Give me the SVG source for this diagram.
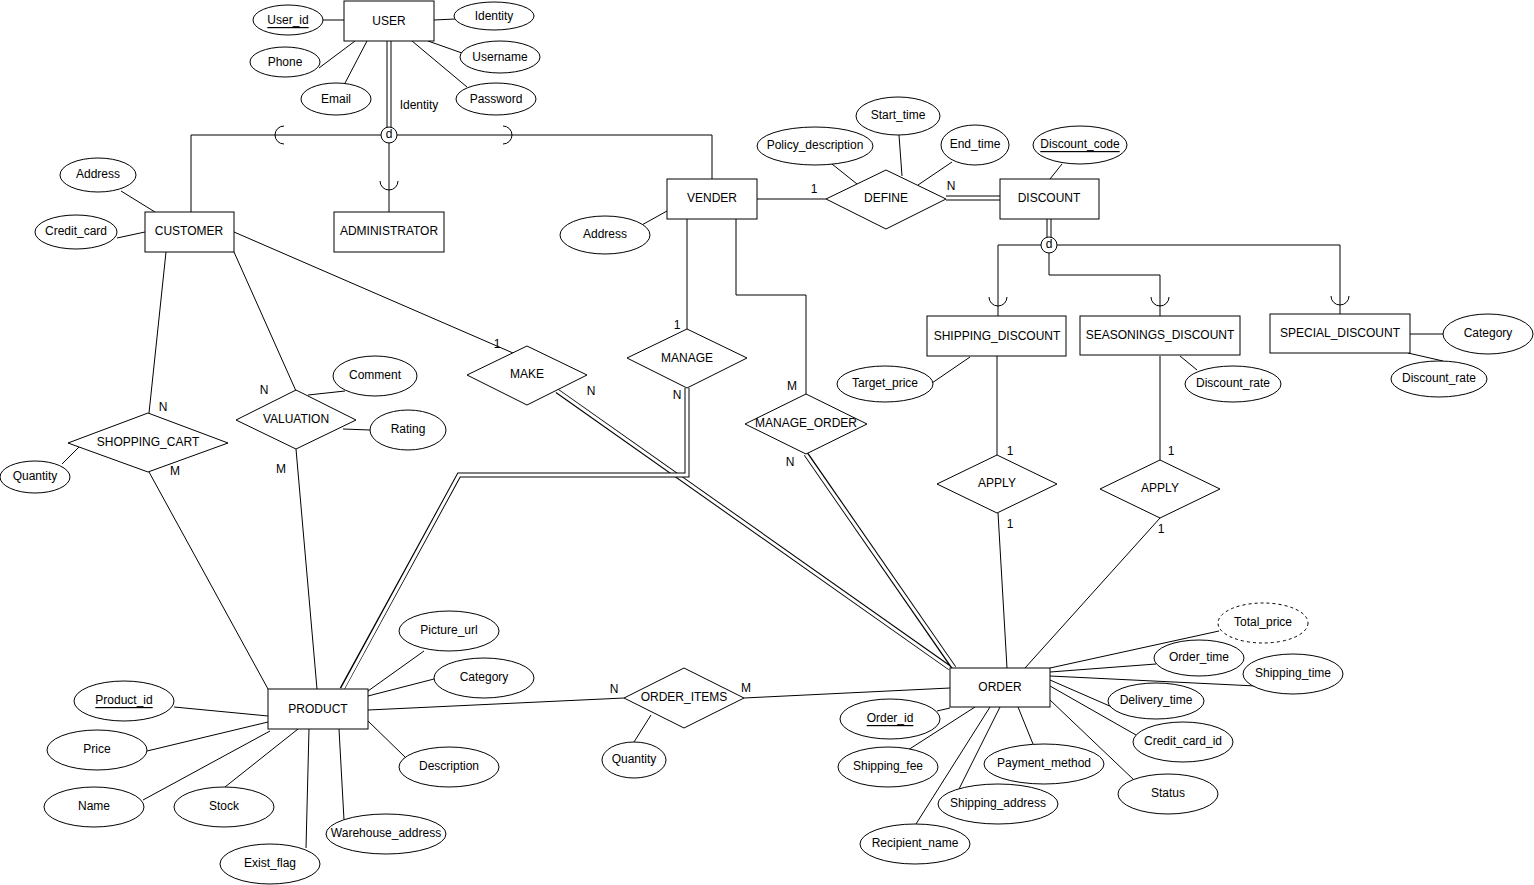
<svg xmlns="http://www.w3.org/2000/svg" width="1534" height="885" viewBox="0 0 1534 885">
<style>
.e{fill:#fff;stroke:#000;stroke-width:1}
.d{fill:#fff;stroke:#000;stroke-width:1;stroke-dasharray:3 3}
.r{fill:#fff;stroke:#000;stroke-width:1}
.l{fill:none;stroke:#000;stroke-width:1}
.bo{fill:none;stroke:#000;stroke-width:5}
.bi{fill:none;stroke:#fff;stroke-width:3}
text{font-family:"Liberation Sans",Arial,sans-serif;font-size:12px;fill:#000}
.t{text-anchor:middle;dominant-baseline:central}
.u{text-decoration:underline}
</style>
<rect width="1534" height="885" fill="#fff"/>
<g id="connectors">
<line class="l" x1="323" y1="20" x2="344" y2="20"/>
<line class="l" x1="434" y1="20" x2="455" y2="19"/>
<line class="l" x1="319" y1="68" x2="355" y2="41"/>
<line class="l" x1="344" y1="85" x2="367" y2="41"/>
<line class="l" x1="462" y1="53" x2="428" y2="41"/>
<line class="l" x1="467" y1="87" x2="412" y2="41"/>
<line class="bo" x1="389" y1="41" x2="389" y2="127"/>
<line class="bi" x1="389" y1="40" x2="389" y2="128"/>
<polyline class="l" points="191,212 191,135 381,135"/>
<polyline class="l" points="397,135 712,135 712,179"/>
<line class="l" x1="389" y1="143" x2="389" y2="212"/>
<path class="l" d="M284,126 A9,9 0 0 0 284,144"/>
<path class="l" d="M503,126 A9,9 0 0 1 503,144"/>
<path class="l" d="M380,181 A9,9 0 0 0 398,181"/>
<line class="l" x1="121" y1="191" x2="155" y2="212"/>
<line class="l" x1="117" y1="238" x2="145" y2="232"/>
<line class="l" x1="640" y1="226" x2="667" y2="211"/>
<line class="l" x1="757" y1="199" x2="826" y2="199"/>
<line class="bo" x1="946" y1="198" x2="1000" y2="198"/>
<line class="bi" x1="945" y1="198" x2="1001" y2="198"/>
<line class="l" x1="832" y1="164" x2="857" y2="184"/>
<line class="l" x1="899" y1="135" x2="902" y2="176"/>
<line class="l" x1="952" y1="162" x2="918" y2="185"/>
<line class="l" x1="1062" y1="164" x2="1050" y2="179"/>
<line class="bo" x1="1049" y1="219" x2="1049" y2="237"/>
<line class="bi" x1="1049" y1="218" x2="1049" y2="238"/>
<polyline class="l" points="998,316 998,245 1041,245"/>
<polyline class="l" points="1057,245 1340,245 1340,314"/>
<polyline class="l" points="1049,253 1049,275 1160,275 1160,316"/>
<path class="l" d="M989,297 A9,9 0 0 0 1007,297"/>
<path class="l" d="M1151,297 A9,9 0 0 0 1169,297"/>
<path class="l" d="M1331,296 A9,9 0 0 0 1349,296"/>
<line class="l" x1="1410" y1="334" x2="1443" y2="334"/>
<line class="l" x1="1408" y1="353" x2="1443" y2="361"/>
<line class="l" x1="1180" y1="356" x2="1197" y2="370"/>
<line class="l" x1="932" y1="383" x2="970" y2="357"/>
<line class="l" x1="997" y1="356" x2="997" y2="455"/>
<line class="l" x1="998" y1="513" x2="1007" y2="668"/>
<line class="l" x1="1160" y1="356" x2="1160" y2="460"/>
<line class="l" x1="1160" y1="518" x2="1025" y2="668"/>
<line class="l" x1="234" y1="232" x2="513" y2="353"/>
<line class="bo" x1="557" y1="391" x2="950" y2="668"/>
<line class="bi" x1="556" y1="390" x2="951" y2="669"/>
<line class="l" x1="687" y1="219" x2="687" y2="329"/>
<polyline class="bo" points="687,388 687,475 459,475 342,689"/>
<polyline class="bi" points="687,387 687,475 459,475 342,690"/>
<polyline class="l" points="736,219 736,295 806,295 806,394"/>
<line class="bo" x1="806" y1="454" x2="954" y2="668"/>
<line class="bi" x1="805" y1="453" x2="955" y2="669"/>
<line class="l" x1="166" y1="252" x2="149" y2="413"/>
<line class="l" x1="149" y1="472" x2="268" y2="689"/>
<line class="l" x1="62" y1="464" x2="79" y2="447"/>
<line class="l" x1="234" y1="252" x2="296" y2="391"/>
<line class="l" x1="296" y1="449" x2="317" y2="689"/>
<line class="l" x1="308" y1="395" x2="345" y2="391"/>
<line class="l" x1="343" y1="429" x2="370" y2="430"/>
<line class="l" x1="174" y1="707" x2="268" y2="716"/>
<line class="l" x1="147" y1="751" x2="268" y2="722"/>
<line class="l" x1="143" y1="800" x2="270" y2="731"/>
<line class="l" x1="225" y1="787" x2="298" y2="729"/>
<line class="l" x1="306" y1="848" x2="309" y2="729"/>
<line class="l" x1="344" y1="820" x2="339" y2="729"/>
<line class="l" x1="405" y1="757" x2="368" y2="721"/>
<line class="l" x1="434" y1="679" x2="368" y2="696"/>
<line class="l" x1="424" y1="651" x2="368" y2="691"/>
<line class="l" x1="368" y1="710" x2="624" y2="698"/>
<line class="l" x1="744" y1="698" x2="950" y2="688"/>
<line class="l" x1="634" y1="742" x2="651" y2="715"/>
<line class="l" x1="1050" y1="668" x2="1219" y2="631"/>
<line class="l" x1="1050" y1="672" x2="1156" y2="664"/>
<line class="l" x1="1050" y1="676" x2="1256" y2="686"/>
<line class="l" x1="1050" y1="680" x2="1112" y2="707"/>
<line class="l" x1="1050" y1="686" x2="1136" y2="735"/>
<line class="l" x1="1050" y1="700" x2="1134" y2="780"/>
<line class="l" x1="1018" y1="707" x2="1033" y2="744"/>
<line class="l" x1="1000" y1="707" x2="959" y2="789"/>
<line class="l" x1="990" y1="707" x2="916" y2="824"/>
<line class="l" x1="975" y1="707" x2="908" y2="750"/>
<line class="l" x1="937" y1="711" x2="950" y2="708"/>
</g>
<g id="USER"><rect class="r" x="344" y="1" width="90" height="40"/><text class="t" x="389" y="21">USER</text></g>
<g id="User_id"><ellipse class="e" cx="288" cy="20" rx="35" ry="15"/><text class="t u" x="288" y="20">User_id</text></g>
<g id="Identity"><ellipse class="e" cx="494" cy="16" rx="40" ry="14"/><text class="t" x="494" y="16">Identity</text></g>
<g id="Phone"><ellipse class="e" cx="285" cy="62" rx="35" ry="15"/><text class="t" x="285" y="62">Phone</text></g>
<g id="Username"><ellipse class="e" cx="500" cy="57" rx="40" ry="16"/><text class="t" x="500" y="57">Username</text></g>
<g id="Email"><ellipse class="e" cx="336" cy="99" rx="35" ry="16"/><text class="t" x="336" y="99">Email</text></g>
<g id="Password"><ellipse class="e" cx="496" cy="99" rx="40" ry="16"/><text class="t" x="496" y="99">Password</text></g>
<g id="lbl-identity"><text class="t" x="419" y="105">Identity</text></g>
<g id="d-user"><circle class="e" cx="389" cy="135" r="8"/><text class="t" x="389" y="134">d</text></g>
<g id="CUSTOMER"><rect class="r" x="145" y="212" width="89" height="40"/><text class="t" x="189" y="231">CUSTOMER</text></g>
<g id="ADMINISTRATOR"><rect class="r" x="334" y="212" width="110" height="40"/><text class="t" x="389" y="231">ADMINISTRATOR</text></g>
<g id="Address-c"><ellipse class="e" cx="98" cy="175" rx="38" ry="17"/><text class="t" x="98" y="174">Address</text></g>
<g id="Credit_card"><ellipse class="e" cx="76" cy="232" rx="41" ry="17"/><text class="t" x="76" y="231">Credit_card</text></g>
<g id="VENDER"><rect class="r" x="667" y="179" width="90" height="40"/><text class="t" x="712" y="198">VENDER</text></g>
<g id="Address-v"><ellipse class="e" cx="605" cy="235" rx="45" ry="19"/><text class="t" x="605" y="234">Address</text></g>
<g id="DEFINE"><polygon class="r" points="826,199 886,170 946,199 886,229"/><text class="t" x="886" y="198">DEFINE</text></g>
<g id="DISCOUNT"><rect class="r" x="1000" y="179" width="99" height="40"/><text class="t" x="1049" y="198">DISCOUNT</text></g>
<g id="Discount_code"><ellipse class="e" cx="1080" cy="145" rx="47" ry="19"/><text class="t u" x="1080" y="144">Discount_code</text></g>
<g id="Policy_description"><ellipse class="e" cx="815" cy="146" rx="58" ry="19"/><text class="t" x="815" y="145">Policy_description</text></g>
<g id="Start_time"><ellipse class="e" cx="898" cy="116" rx="42" ry="19"/><text class="t" x="898" y="115">Start_time</text></g>
<g id="End_time"><ellipse class="e" cx="975" cy="145" rx="34" ry="20"/><text class="t" x="975" y="144">End_time</text></g>
<g id="d-discount"><circle class="e" cx="1049" cy="245" r="8"/><text class="t" x="1049" y="244">d</text></g>
<g id="SHIPPING_DISCOUNT"><rect class="r" x="927" y="316" width="139" height="40"/><text class="t" x="997" y="336">SHIPPING_DISCOUNT</text></g>
<g id="SEASONINGS_DISCOUNT"><rect class="r" x="1080" y="316" width="160" height="39"/><text class="t" x="1160" y="335">SEASONINGS_DISCOUNT</text></g>
<g id="SPECIAL_DISCOUNT"><rect class="r" x="1270" y="314" width="140" height="39"/><text class="t" x="1340" y="333">SPECIAL_DISCOUNT</text></g>
<g id="Category-s"><ellipse class="e" cx="1488" cy="334" rx="45" ry="20"/><text class="t" x="1488" y="333">Category</text></g>
<g id="Discount_rate-sp"><ellipse class="e" cx="1439" cy="379" rx="48" ry="18"/><text class="t" x="1439" y="378">Discount_rate</text></g>
<g id="Discount_rate-se"><ellipse class="e" cx="1233" cy="384" rx="48" ry="18"/><text class="t" x="1233" y="383">Discount_rate</text></g>
<g id="Target_price"><ellipse class="e" cx="885" cy="384" rx="48" ry="18"/><text class="t" x="885" y="383">Target_price</text></g>
<g id="APPLY1"><polygon class="r" points="937,484 997,455 1057,484 997,513"/><text class="t" x="997" y="483">APPLY</text></g>
<g id="APPLY2"><polygon class="r" points="1100,489 1160,460 1220,489 1160,518"/><text class="t" x="1160" y="488">APPLY</text></g>
<g id="MAKE"><polygon class="r" points="467,375 527,346 587,375 527,405"/><text class="t" x="527" y="374">MAKE</text></g>
<g id="MANAGE"><polygon class="r" points="627,358 687,329 747,358 687,388"/><text class="t" x="687" y="358">MANAGE</text></g>
<g id="MANAGE_ORDER"><polygon class="r" points="745,424 806,394 867,424 806,454"/><text class="t" x="806" y="423">MANAGE_ORDER</text></g>
<g id="SHOPPING_CART"><polygon class="r" points="68,443 148,413 228,443 148,472"/><text class="t" x="148" y="442">SHOPPING_CART</text></g>
<g id="Quantity-sc"><ellipse class="e" cx="35" cy="477" rx="35" ry="16"/><text class="t" x="35" y="476">Quantity</text></g>
<g id="VALUATION"><polygon class="r" points="236,420 296,390 356,420 296,449"/><text class="t" x="296" y="419">VALUATION</text></g>
<g id="Comment"><ellipse class="e" cx="375" cy="376" rx="42" ry="20"/><text class="t" x="375" y="375">Comment</text></g>
<g id="Rating"><ellipse class="e" cx="408" cy="430" rx="38" ry="20"/><text class="t" x="408" y="429">Rating</text></g>
<g id="PRODUCT"><rect class="r" x="268" y="689" width="100" height="40"/><text class="t" x="318" y="709">PRODUCT</text></g>
<g id="Product_id"><ellipse class="e" cx="124" cy="701" rx="50" ry="20"/><text class="t u" x="124" y="700">Product_id</text></g>
<g id="Price"><ellipse class="e" cx="97" cy="750" rx="50" ry="20"/><text class="t" x="97" y="749">Price</text></g>
<g id="Name"><ellipse class="e" cx="94" cy="807" rx="50" ry="20"/><text class="t" x="94" y="806">Name</text></g>
<g id="Stock"><ellipse class="e" cx="224" cy="807" rx="50" ry="20"/><text class="t" x="224" y="806">Stock</text></g>
<g id="Exist_flag"><ellipse class="e" cx="270" cy="864" rx="50" ry="20"/><text class="t" x="270" y="863">Exist_flag</text></g>
<g id="Warehouse_address"><ellipse class="e" cx="386" cy="834" rx="60" ry="20"/><text class="t" x="386" y="833">Warehouse_address</text></g>
<g id="Description"><ellipse class="e" cx="449" cy="767" rx="50" ry="20"/><text class="t" x="449" y="766">Description</text></g>
<g id="Category-p"><ellipse class="e" cx="484" cy="678" rx="50" ry="20"/><text class="t" x="484" y="677">Category</text></g>
<g id="Picture_url"><ellipse class="e" cx="449" cy="631" rx="50" ry="20"/><text class="t" x="449" y="630">Picture_url</text></g>
<g id="ORDER_ITEMS"><polygon class="r" points="624,698 684,668 744,698 684,728"/><text class="t" x="684" y="697">ORDER_ITEMS</text></g>
<g id="Quantity-oi"><ellipse class="e" cx="634" cy="760" rx="32" ry="18"/><text class="t" x="634" y="759">Quantity</text></g>
<g id="ORDER"><rect class="r" x="950" y="668" width="100" height="39"/><text class="t" x="1000" y="687">ORDER</text></g>
<g id="Total_price"><ellipse class="d" cx="1263" cy="623" rx="45" ry="20"/><text class="t" x="1263" y="622">Total_price</text></g>
<g id="Order_time"><ellipse class="e" cx="1199" cy="658" rx="45" ry="18"/><text class="t" x="1199" y="657">Order_time</text></g>
<g id="Shipping_time"><ellipse class="e" cx="1293" cy="674" rx="50" ry="20"/><text class="t" x="1293" y="673">Shipping_time</text></g>
<g id="Delivery_time"><ellipse class="e" cx="1156" cy="701" rx="48" ry="18"/><text class="t" x="1156" y="700">Delivery_time</text></g>
<g id="Credit_card_id"><ellipse class="e" cx="1183" cy="742" rx="50" ry="20"/><text class="t" x="1183" y="741">Credit_card_id</text></g>
<g id="Status"><ellipse class="e" cx="1168" cy="794" rx="50" ry="20"/><text class="t" x="1168" y="793">Status</text></g>
<g id="Payment_method"><ellipse class="e" cx="1044" cy="764" rx="60" ry="20"/><text class="t" x="1044" y="763">Payment_method</text></g>
<g id="Shipping_address"><ellipse class="e" cx="998" cy="804" rx="60" ry="20"/><text class="t" x="998" y="803">Shipping_address</text></g>
<g id="Recipient_name"><ellipse class="e" cx="915" cy="844" rx="55" ry="20"/><text class="t" x="915" y="843">Recipient_name</text></g>
<g id="Shipping_fee"><ellipse class="e" cx="888" cy="767" rx="50" ry="20"/><text class="t" x="888" y="766">Shipping_fee</text></g>
<g id="Order_id"><ellipse class="e" cx="890" cy="719" rx="50" ry="20"/><text class="t u" x="890" y="718">Order_id</text></g>
<g id="cardinalities">
<text class="t" x="814" y="189">1</text>
<text class="t" x="951" y="186">N</text>
<text class="t" x="497" y="344">1</text>
<text class="t" x="591" y="391">N</text>
<text class="t" x="677" y="325">1</text>
<text class="t" x="677" y="395">N</text>
<text class="t" x="792" y="386">M</text>
<text class="t" x="790" y="462">N</text>
<text class="t" x="163" y="407">N</text>
<text class="t" x="175" y="471">M</text>
<text class="t" x="264" y="390">N</text>
<text class="t" x="281" y="469">M</text>
<text class="t" x="1010" y="451">1</text>
<text class="t" x="1010" y="524">1</text>
<text class="t" x="1171" y="451">1</text>
<text class="t" x="1161" y="529">1</text>
<text class="t" x="614" y="689">N</text>
<text class="t" x="746" y="688">M</text>
</g>
</svg>
